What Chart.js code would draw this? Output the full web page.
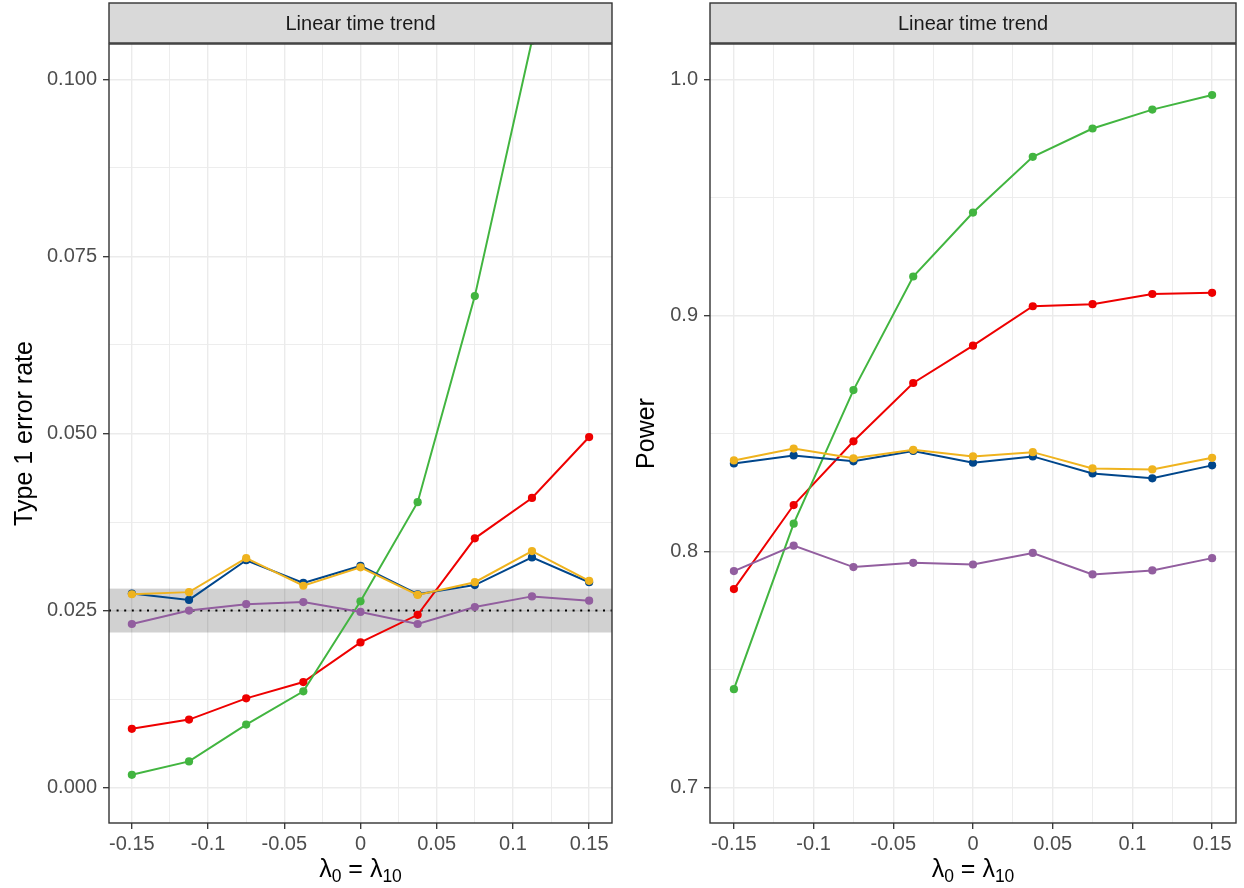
<!DOCTYPE html>
<html>
<head>
<meta charset="utf-8">
<script src="https://cdn.jsdelivr.net/npm/chart.js@4.4.1/dist/chart.umd.min.js"></script>
<style>
  html, body { margin: 0; padding: 0; background: #fff; }
  #wrap { position: relative; width: 1244px; height: 888px; }
  .panel { position: absolute; top: 0; width: 622px; height: 888px; }
</style>
</head>
<body>
<div id="wrap">
  <div class="panel" style="left:0"><canvas id="type1Chart"></canvas></div>
  <div class="panel" style="left:622px"><canvas id="powerChart"></canvas></div>
</div>
<script>
// lambda_0 = lambda_10 values on the x axis
const lambdaValues = [-0.15, -0.1125, -0.075, -0.0375, 0, 0.0375, 0.075, 0.1125, 0.15];

// Type 1 error rate (left panel)
const blueType1 = [0.0274, 0.0265, 0.0321, 0.0289, 0.0313, 0.0273, 0.0286, 0.0325, 0.0290];
const goldType1 = [0.0273, 0.0276, 0.0324, 0.0285, 0.0311, 0.0272, 0.0290, 0.0334, 0.0292];
const purpleType1 = [0.0231, 0.0250, 0.0259, 0.0262, 0.0248, 0.0231, 0.0255, 0.0270, 0.0264];
const redType1 = [0.0083, 0.0096, 0.0126, 0.0149, 0.0205, 0.0244, 0.0352, 0.0409, 0.0495];
const greenType1 = [0.0018, 0.0037, 0.0089, 0.0136, 0.0263, 0.0403, 0.0694, 0.1055, 0.1420];

// Power (right panel)
const bluePower = [0.8373, 0.8407, 0.8382, 0.8426, 0.8376, 0.8403, 0.8331, 0.8310, 0.8365];
const goldPower = [0.8386, 0.8436, 0.8395, 0.8431, 0.8403, 0.8421, 0.8352, 0.8348, 0.8397];
const purplePower = [0.7917, 0.8025, 0.7934, 0.7952, 0.7945, 0.7994, 0.7903, 0.7920, 0.7972];
const redPower = [0.7841, 0.8197, 0.8467, 0.8714, 0.8872, 0.9039, 0.9048, 0.9091, 0.9096];
const greenPower = [0.7417, 0.8118, 0.8684, 0.9165, 0.9436, 0.9672, 0.9792, 0.9872, 0.9934];

// nominal level and its Monte Carlo band
const nominalLevel = 0.025;
const bandLow = 0.0219;
const bandHigh = 0.0281;

// axis breaks (major ones get labels, the rest are minor grid lines)
const xMajorTicks = [-0.15, -0.1, -0.05, 0, 0.05, 0.1, 0.15];
const xMinorTicks = [-0.125, -0.075, -0.025, 0.025, 0.075, 0.125];
const type1MajorTicks = [0, 0.025, 0.05, 0.075, 0.1];
const type1MinorTicks = [0.0125, 0.0375, 0.0625, 0.0875];
const powerMajorTicks = [0.7, 0.8, 0.9, 1.0];
const powerMinorTicks = [0.75, 0.85, 0.95];

const stripLabel = 'Linear time trend';
const FONT = '"Liberation Sans", Arial, Helvetica, sans-serif';

const colors = {
    blue: '#00468B',
    gold: '#EFB31E',
    purple: '#925E9F',
    red: '#EE0000',
    green: '#42B540'
};

function isMajor(list, v) {
    return list.some(m => Math.abs(m - v) < 1e-9);
}

function series(values, color) {
    return {
        data: lambdaValues.map((x, i) => ({ x: x, y: values[i] })),
        borderColor: color,
        backgroundColor: color,
        pointBackgroundColor: color,
        pointBorderWidth: 0,
        pointRadius: 4.1,
        borderWidth: 2,
        tension: 0
    };
}

// grey strip on top, panel border and the x axis title
const facetPlugin = {
    id: 'facet',
    afterDraw(chart) {
        const ctx = chart.ctx;
        const a = chart.chartArea;
        ctx.save();
        // strip
        ctx.fillStyle = '#D9D9D9';
        ctx.fillRect(a.left, 3, a.right - a.left, a.top - 4);
        ctx.strokeStyle = '#333333';
        ctx.lineWidth = 1.4;
        ctx.strokeRect(a.left, 3, a.right - a.left, a.top - 4);
        ctx.fillStyle = '#1A1A1A';
        ctx.font = '20px ' + FONT;
        ctx.textAlign = 'center';
        ctx.textBaseline = 'middle';
        ctx.fillText(stripLabel, (a.left + a.right) / 2, (a.top + 3) / 2 + 1);
        // panel border
        ctx.strokeRect(a.left, a.top, a.right - a.left, a.bottom - a.top);

        // x title: lambda_0 = lambda_10
        const big = '25px ' + FONT;
        const small = '17.5px ' + FONT;
        const parts = [['\u03BB', big, 0], ['0', small, 5], [' = ', big, 0], ['\u03BB', big, 0], ['10', small, 5]];
        let total = 0;
        parts.forEach(p => { ctx.font = p[1]; total += ctx.measureText(p[0]).width; });
        let x = (a.left + a.right) / 2 - total / 2;
        ctx.fillStyle = '#000000';
        ctx.textAlign = 'left';
        ctx.textBaseline = 'alphabetic';
        parts.forEach(p => {
            ctx.font = p[1];
            ctx.fillText(p[0], x, 877 + p[2]);
            x += ctx.measureText(p[0]).width;
        });
        ctx.restore();
    }
};

// band and dotted reference line for the nominal level
const nominalPlugin = {
    id: 'nominal',
    beforeDatasetsDraw(chart) {
        const ctx = chart.ctx;
        const a = chart.chartArea;
        const y = chart.scales.y;
        ctx.save();
        const top = y.getPixelForValue(bandHigh);
        const bottom = y.getPixelForValue(bandLow);
        ctx.fillStyle = 'rgba(0, 0, 0, 0.18)';
        ctx.fillRect(a.left, top, a.right - a.left, bottom - top);
        const yl = y.getPixelForValue(nominalLevel);
        ctx.strokeStyle = '#000000';
        ctx.lineWidth = 2;
        ctx.setLineDash([2, 5.6]);
        ctx.beginPath();
        ctx.moveTo(a.left, yl);
        ctx.lineTo(a.right, yl);
        ctx.stroke();
        ctx.restore();
    }
};

function gridFor(majors) {
    return {
        color: c => '#EBEBEB',
        lineWidth: c => (c.tick && isMajor(majors, c.tick.value)) ? 1.4 : 0.9,
        tickColor: c => (c.tick && isMajor(majors, c.tick.value)) ? '#333333' : 'rgba(0,0,0,0)',
        tickLength: 6,
        tickWidth: 1.3,
        drawOnChartArea: true
    };
}

function buildOptions(yMin, yMax, yMajors, yMinors, yLabel, yFormat, yWidth, rightPad) {
    return {
        responsive: true,
        maintainAspectRatio: false,
        animation: false,
        devicePixelRatio: 1,
        layout: { padding: { top: 44, right: rightPad, left: 0, bottom: 0 } },
        plugins: { legend: { display: false }, tooltip: { enabled: false }, title: { display: false } },
        scales: {
            x: {
                type: 'linear',
                min: -0.165,
                max: 0.165,
                afterBuildTicks: s => { s.ticks = xMajorTicks.concat(xMinorTicks).sort((p, q) => p - q).map(v => ({ value: v })); },
                afterFit: s => { s.height = 65; },
                border: { display: false },
                grid: gridFor(xMajorTicks),
                ticks: {
                    autoSkip: false,
                    maxRotation: 0,
                    padding: 3,
                    color: '#4D4D4D',
                    font: { family: FONT, size: 20 },
                    callback: v => isMajor(xMajorTicks, v) ? String(Math.round(v * 100) / 100) : ''
                }
            },
            y: {
                type: 'linear',
                min: yMin,
                max: yMax,
                afterBuildTicks: s => { s.ticks = yMajors.concat(yMinors).sort((p, q) => p - q).map(v => ({ value: v })); },
                afterFit: s => { s.width = yWidth; },
                border: { display: false },
                grid: gridFor(yMajors),
                title: {
                    display: true,
                    text: yLabel,
                    color: '#000000',
                    font: { family: FONT, size: 25 },
                    padding: { top: 10, bottom: 0 }
                },
                ticks: {
                    autoSkip: false,
                    padding: 6,
                    color: '#4D4D4D',
                    font: { family: FONT, size: 20 },
                    callback: v => isMajor(yMajors, v) ? yFormat(v) : ''
                }
            }
        }
    };
}

// datasets listed top-most first
new Chart(document.getElementById('type1Chart'), {
    type: 'line',
    data: {
        datasets: [
            series(goldType1, colors.gold),
            series(blueType1, colors.blue),
            series(purpleType1, colors.purple),
            series(greenType1, colors.green),
            series(redType1, colors.red)
        ]
    },
    options: buildOptions(-0.005, 0.105, type1MajorTicks, type1MinorTicks, 'Type 1 error rate', v => v.toFixed(3), 109, 10),
    plugins: [nominalPlugin, facetPlugin]
});

new Chart(document.getElementById('powerChart'), {
    type: 'line',
    data: {
        datasets: [
            series(goldPower, colors.gold),
            series(bluePower, colors.blue),
            series(purplePower, colors.purple),
            series(greenPower, colors.green),
            series(redPower, colors.red)
        ]
    },
    options: buildOptions(0.685, 1.015, powerMajorTicks, powerMinorTicks, 'Power', v => v.toFixed(1), 88, 8),
    plugins: [facetPlugin]
});
</script>
</body>
</html>
